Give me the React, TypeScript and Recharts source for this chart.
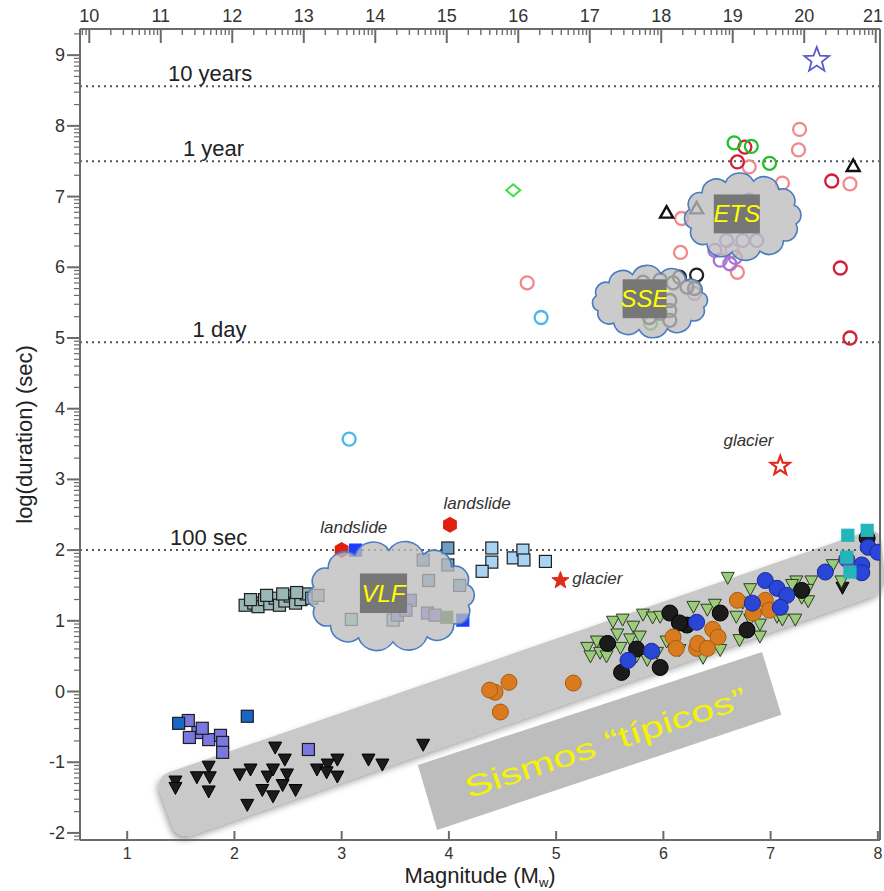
import React from "react";
import { ScatterChart, Scatter, XAxis, YAxis, ReferenceLine, ReferenceArea } from "recharts";

type Pt = [number, number];

// [magnitude Mw, log10 duration (s)]
const pinkRings: Pt[] = [
  [7.27, 7.95], [7.26, 7.66], [6.8, 7.42], [7.11, 7.19], [7.74, 7.18],
  [6.17, 6.69], [6.16, 6.21], [6.64, 6.24], [6.69, 5.93], [4.73, 5.78],
];
const redRings: Pt[] = [[6.69, 7.49], [6.76, 7.7], [7.57, 7.22], [7.65, 5.99], [7.74, 5.0]];
const greenRings: Pt[] = [[6.66, 7.76], [6.82, 7.71], [6.99, 7.47], [5.88, 5.21]];
const purpleRings: Pt[] = [
  [6.48, 6.24], [6.53, 6.1], [6.59, 6.38], [6.74, 6.38], [6.87, 6.38],
  [6.67, 6.14], [6.8, 6.95], [6.29, 5.63], [6.62, 6.05],
];
const blackRings: Pt[] = [
  [5.81, 5.79], [5.97, 5.82], [6.09, 5.78], [6.22, 5.72], [6.31, 5.89], [6.29, 5.7],
  [6.06, 5.53], [6.06, 5.39], [6.06, 5.25], [5.97, 5.35], [5.87, 5.29], [6.15, 5.86], [5.9, 5.6],
];
const cyanRings: Pt[] = [[4.86, 5.29], [3.07, 3.57]];
const greenDiamonds: Pt[] = [[4.6, 7.09]];
const blackOpenTriangles: Pt[] = [[6.03, 6.78], [6.31, 6.84], [7.77, 7.44]];
const blueOpenStars: Pt[] = [[7.43, 8.93]];
const redOpenStars: Pt[] = [[7.09, 3.19]];
const redStars: Pt[] = [[5.04, 1.57]];
const redHexagons: Pt[] = [[3.0, 2.0], [4.01, 2.36]];

// VLF & low-frequency squares
const grayTealSquares: Pt[] = [
  [2.1, 1.22], [2.18, 1.25], [2.22, 1.2], [2.28, 1.3], [2.33, 1.24], [2.38, 1.32],
  [2.42, 1.22], [2.47, 1.28], [2.52, 1.35], [2.57, 1.25], [2.62, 1.3], [2.67, 1.38],
  [2.72, 1.32], [2.78, 1.36], [2.3, 1.36], [2.45, 1.38], [2.15, 1.3], [2.58, 1.4],
];
const lightBlueSquares: Pt[] = [
  [4.4, 2.03], [4.4, 1.83], [4.31, 1.7], [4.6, 1.89], [4.69, 2.0], [4.7, 1.86], [4.9, 1.84],
];
const steelBlueSquares: Pt[] = [[3.76, 1.86], [3.99, 2.03], [3.99, 1.79], [3.81, 1.57], [4.1, 1.5]];
const tealSquares: Pt[] = [[3.09, 1.02], [3.48, 1.01]];
const periwinkleSquares: Pt[] = [
  [3.64, 1.29], [3.52, 1.08], [3.8, 1.11], [3.87, 1.08], [3.6, 1.15],
  [1.57, -0.41], [1.66, -0.58], [1.58, -0.65], [1.76, -0.68], [1.87, -0.62],
  [1.89, -0.72], [1.89, -0.86], [2.69, -0.82], [1.7, -0.52],
];
const midBlueSquares: Pt[] = [[1.48, -0.45], [2.12, -0.35]];
const brightBlueSquares: Pt[] = [[3.13, 2.0], [4.13, 1.01]];
const darkGreenSquares: Pt[] = [[3.98, 1.05]];
const cyanSquares: Pt[] = [[7.72, 2.21], [7.9, 2.28], [7.71, 1.9], [7.74, 1.69]];

// regular earthquakes
const blackTriangles: Pt[] = [
  [1.45, -1.28], [1.45, -1.37], [1.65, -1.22], [1.76, -1.07], [1.77, -1.22], [1.76, -1.42],
  [2.05, -1.18], [2.15, -1.11], [2.12, -1.61], [2.26, -1.4], [2.31, -1.21], [2.36, -1.11],
  [2.38, -0.8], [2.47, -0.97], [2.36, -1.49], [2.45, -1.33], [2.49, -1.18], [2.57, -1.4],
  [2.77, -1.11], [2.87, -1.04], [2.96, -0.97], [2.96, -1.21], [2.86, -1.15], [3.25, -0.97],
  [3.38, -1.04], [3.76, -0.76], [7.67, 1.46],
];
const greenTriangles: Pt[] = [
  [5.29, 0.61], [5.38, 0.7], [5.53, 0.98], [5.62, 1.01], [5.72, 0.91], [5.81, 1.08],
  [5.9, 1.04], [5.57, 0.8], [5.69, 0.73], [5.78, 0.77], [5.32, 0.49], [5.41, 0.54],
  [5.75, 0.49], [5.85, 0.44], [5.94, 0.54], [5.97, 1.05], [5.6, 0.61], [5.47, 0.49],
  [6.6, 1.6], [7.58, 1.78], [7.66, 1.55], [7.24, 1.55], [7.38, 1.55], [7.35, 1.27],
  [7.23, 1.01], [6.81, 1.44], [6.9, 0.77], [6.71, 0.72], [6.53, 0.58], [6.37, 0.47],
  [6.15, 0.58], [6.03, 0.7], [6.41, 1.15], [6.28, 1.19], [6.68, 1.05], [7.06, 1.05],
  [7.11, 1.01], [7.29, 1.32], [6.81, 1.01], [6.9, 0.94], [6.48, 1.22], [6.74, 1.25],
  [7.2, 1.5], [7.34, 1.43],
];
const orangeDiscs: Pt[] = [
  [4.43, -0.01], [4.56, 0.13], [4.38, 0.02], [4.48, -0.29], [5.16, 0.12],
  [6.09, 0.77], [6.12, 0.61], [6.31, 0.61], [6.69, 1.29], [6.95, 1.29], [6.99, 1.15],
  [6.84, 1.11], [6.46, 0.88], [6.51, 0.77], [6.32, 0.68], [6.41, 0.61],
];
const blackDiscs: Pt[] = [
  [5.48, 0.68], [5.61, 0.27], [5.97, 0.34], [6.06, 1.11], [6.22, 0.94], [7.9, 2.17],
  [7.29, 1.43], [6.53, 1.11], [6.78, 0.87], [6.15, 0.97], [5.75, 0.6],
];
const blueDiscs: Pt[] = [
  [5.67, 0.44], [5.89, 0.57], [6.31, 0.98], [7.91, 2.04], [8.0, 1.97], [7.85, 1.79],
  [7.85, 1.68], [7.51, 1.69], [6.95, 1.57], [7.06, 1.46], [7.15, 1.36], [7.09, 1.19], [6.83, 1.25],
];
const purpleDiscs: Pt[] = [[7.71, 1.87]];

const magTicks = [1, 2, 3, 4, 5, 6, 7, 8];
const momentTicks = [10, 11, 12, 13, 14, 15, 16, 17, 18, 19, 20, 21];
const durationTicks = [-2, -1, 0, 1, 2, 3, 4, 5, 6, 7, 8, 9];

const durationLines = [
  { y: 8.56, text: "10 years", mw: 1.38 },
  { y: 7.5, text: "1 year", mw: 1.52 },
  { y: 4.94, text: "1 day", mw: 1.61 },
  { y: 2.0, text: "100 sec", mw: 1.4 },
];

const notes = [
  { x: 2.8, y: 2.32, text: "landslide" },
  { x: 3.95, y: 2.66, text: "landslide" },
  { x: 5.15, y: 1.6, text: "glacier" },
  { x: 6.56, y: 3.55, text: "glacier" },
];

const clouds = [
  { name: "VLF", x1: 2.63, x2: 4.29, y1: 0.56, y2: 2.14, lx1: 3.17, lx2: 3.61, ly1: 1.11, ly2: 1.67, bumps: 14 },
  { name: "SSE", x1: 5.27, x2: 6.48, y1: 4.97, y2: 6.06, lx1: 5.62, lx2: 6.03, ly1: 5.28, ly2: 5.83, bumps: 12 },
  { name: "ETS", x1: 6.14, x2: 7.34, y1: 6.06, y2: 7.37, lx1: 6.47, lx2: 6.9, ly1: 6.48, ly2: 7.03, bumps: 12 },
];

const bandCorners: Pt[] = [[1.26, -1.21], [8.02, 2.33], [8.08, 1.42], [1.47, -2.1]];
const boxCorners: Pt[] = [[3.71, -1.04], [6.92, 0.56], [7.1, -0.33], [3.89, -1.96]];

const WIDTH = 884;
const HEIGHT = 891;
const X_MIN = 0.56;
const X_MAX = 8.02;
const Y_MIN = -2.1;
const Y_MAX = 9.37;
// top axis: log10 seismic moment, M0 = 1.5 Mw + 9.03
const momentToMw = (v: number) => (v - 9.03) / 1.5;

const FONT = "'Liberation Sans', Arial, sans-serif";
const AXIS = "#6b6b6b";

const logMinors = (lo: number, hi: number) => {
  const out: number[] = [];
  for (let n = Math.floor(lo) - 1; n <= Math.ceil(hi); n++)
    for (let k = 2; k <= 9; k++) {
      const v = n + Math.log10(k);
      if (v > lo && v < hi) out.push(v);
    }
  return out;
};

const toXY = (pts: Pt[]) => pts.map(([x, y]) => ({ x, y }));

// marker shapes
const ring = (color: string) => (p: any) => (
  <circle cx={p.cx} cy={p.cy} r={6.5} fill="none" stroke={color} strokeWidth={2.3} />
);
const disc = (fill: string, stroke: string) => (p: any) => (
  <circle cx={p.cx} cy={p.cy} r={8} fill={fill} stroke={stroke} strokeWidth={1} />
);
const square = (fill: string, stroke = "#1e1e1e") => (p: any) => (
  <rect x={p.cx - 6} y={p.cy - 6} width={12} height={12} fill={fill} stroke={stroke} strokeWidth={1.2} />
);
const triDown = (fill: string, stroke: string) => (p: any) => (
  <polygon
    points={`${p.cx - 6.5},${p.cy - 6} ${p.cx + 6.5},${p.cy - 6} ${p.cx},${p.cy + 6}`}
    fill={fill}
    stroke={stroke}
    strokeWidth={1}
    strokeLinejoin="round"
  />
);
const triUpOpen = (color: string) => (p: any) => (
  <polygon
    points={`${p.cx - 6.5},${p.cy + 5.5} ${p.cx + 6.5},${p.cy + 5.5} ${p.cx},${p.cy - 6}`}
    fill="none"
    stroke={color}
    strokeWidth={2.4}
  />
);
const starPts = (cx: number, cy: number, R: number) => {
  const pts: string[] = [];
  for (let i = 0; i < 10; i++) {
    const a = -Math.PI / 2 + (i * Math.PI) / 5;
    const r = i % 2 === 0 ? R : R * 0.42;
    pts.push(`${cx + r * Math.cos(a)},${cy + r * Math.sin(a)}`);
  }
  return pts.join(" ");
};
const star = (fill: string, stroke: string, R: number, sw: number) => (p: any) => (
  <polygon points={starPts(p.cx, p.cy, R)} fill={fill} stroke={stroke} strokeWidth={sw} />
);
const hexagon = (fill: string) => (p: any) => {
  const pts: string[] = [];
  for (let i = 0; i < 6; i++) {
    const a = -Math.PI / 2 + (i * Math.PI) / 3;
    pts.push(`${p.cx + 8 * Math.cos(a)},${p.cy + 8 * Math.sin(a)}`);
  }
  return <polygon points={pts.join(" ")} fill={fill} />;
};
const diamondOpen = (color: string) => (p: any) => (
  <polygon
    points={`${p.cx},${p.cy - 6} ${p.cx + 7},${p.cy} ${p.cx},${p.cy + 6} ${p.cx - 7},${p.cy}`}
    fill="none"
    stroke={color}
    strokeWidth={2}
  />
);

const BottomTick = (props: any) => {
  const { x, y, payload } = props;
  return (
    <g>
      <line x1={x} x2={x} y1={y} y2={y - 9} stroke={AXIS} strokeWidth={2} />
      <text x={x} y={y + 19} textAnchor="middle" fontSize={16} fill="#333" fontFamily={FONT}>
        {payload.value}
      </text>
    </g>
  );
};
const LeftTick = (props: any) => {
  const { x, y, payload } = props;
  return (
    <g>
      <line x1={x - 13} x2={x} y1={y} y2={y} stroke={AXIS} strokeWidth={2} />
      <text x={x - 15} y={y} textAnchor="end" dominantBaseline="central" fontSize={18} fill="#333" fontFamily={FONT}>
        {payload.value}
      </text>
    </g>
  );
};

// map data coords inside a full-domain ReferenceArea
const mapper = (p: any) => ({
  sx: (v: number) => p.x + ((v - X_MIN) / (X_MAX - X_MIN)) * p.width,
  sy: (v: number) => p.y + ((Y_MAX - v) / (Y_MAX - Y_MIN)) * p.height,
});

// top moment axis and the log minor ticks of the duration axis
const FrameShape = (p: any) => {
  const { sx, sy } = mapper(p);
  const top = p.y;
  const left = p.x;
  const mMin = 1.5 * X_MIN + 9.03;
  const mMax = 1.5 * X_MAX + 9.03;
  return (
    <g>
      <line x1={left} x2={left + p.width} y1={top} y2={top} stroke={AXIS} strokeWidth={2} />
      {logMinors(mMin, mMax).map((v, i) => {
        const x = sx(momentToMw(v));
        return <line key={`tm${i}`} x1={x} x2={x} y1={top} y2={top + 6} stroke={AXIS} strokeWidth={1.4} />;
      })}
      {momentTicks.map((v) => {
        const x = sx(momentToMw(v));
        const tx = Math.min(x, WIDTH - 11);
        return (
          <g key={`tM${v}`}>
            <line x1={x} x2={x} y1={top} y2={top + 14} stroke={AXIS} strokeWidth={2} />
            <text x={tx} y={top - 7} textAnchor="middle" fontSize={18} fill="#333" fontFamily={FONT}>
              {v}
            </text>
          </g>
        );
      })}
      {logMinors(Y_MIN, Y_MAX).map((v, i) => {
        const y = sy(v);
        return <line key={`ym${i}`} x1={left - 6} x2={left} y1={y} y2={y} stroke={AXIS} strokeWidth={1.2} />;
      })}
    </g>
  );
};

const roundedPath = (pts: number[][], r: number) => {
  const n = pts.length;
  let d = "";
  for (let i = 0; i < n; i++) {
    const prev = pts[(i + n - 1) % n];
    const cur = pts[i];
    const next = pts[(i + 1) % n];
    const l1 = Math.hypot(prev[0] - cur[0], prev[1] - cur[1]);
    const l2 = Math.hypot(next[0] - cur[0], next[1] - cur[1]);
    const a = [cur[0] + ((prev[0] - cur[0]) * r) / l1, cur[1] + ((prev[1] - cur[1]) * r) / l1];
    const b = [cur[0] + ((next[0] - cur[0]) * r) / l2, cur[1] + ((next[1] - cur[1]) * r) / l2];
    d += `${i === 0 ? "M" : "L"}${a[0]},${a[1]} Q${cur[0]},${cur[1]} ${b[0]},${b[1]} `;
  }
  return d + "Z";
};

const BandShape = (p: any) => {
  const { sx, sy } = mapper(p);
  const band = bandCorners.map(([x, y]) => [sx(x), sy(y)]);
  const box = boxCorners.map(([x, y]) => [sx(x), sy(y)]);
  const cx = box.reduce((s, q) => s + q[0], 0) / 4;
  const cy = box.reduce((s, q) => s + q[1], 0) / 4;
  const ang = (Math.atan2(box[1][1] - box[0][1], box[1][0] - box[0][0]) * 180) / Math.PI;
  return (
    <g>
      <defs>
        <filter id="bandShadow" x="-5%" y="-20%" width="110%" height="140%">
          <feDropShadow dx="-2" dy="4" stdDeviation="3" floodColor="#000" floodOpacity="0.35" />
        </filter>
      </defs>
      <path d={roundedPath(band, 16)} fill="#c9c9c9" filter="url(#bandShadow)" />
      <polygon points={box.map((q) => q.join(",")).join(" ")} fill="#bdbdbd" />
      <text
        x={cx + 6}
        y={cy + 2}
        transform={`rotate(${ang} ${cx + 6} ${cy + 2})`}
        textAnchor="middle"
        dominantBaseline="central"
        fontSize={30}
        fill="#f4f400"
        fontFamily={FONT}
        textLength={295}
        lengthAdjust="spacingAndGlyphs"
      >
        Sismos “típicos”
      </text>
    </g>
  );
};

const cloudPath = (x1: number, y1: number, x2: number, y2: number, n: number) => {
  const cx = (x1 + x2) / 2;
  const cy = (y1 + y2) / 2;
  const bump = 10;
  const rx = (x2 - x1) / 2 - bump;
  const ry = (y2 - y1) / 2 - bump;
  const pts: number[][] = [];
  for (let i = 0; i < n; i++) {
    const a = (i / n) * 2 * Math.PI + 0.2;
    pts.push([cx + rx * Math.cos(a), cy + ry * Math.sin(a)]);
  }
  let d = `M${pts[0][0]},${pts[0][1]}`;
  for (let i = 0; i < n; i++) {
    const q1 = pts[i];
    const q2 = pts[(i + 1) % n];
    const r = Math.hypot(q2[0] - q1[0], q2[1] - q1[1]) * 0.56;
    d += ` A${r},${r} 0 0 1 ${q2[0]},${q2[1]}`;
  }
  return d + " Z";
};

const CloudShape = (p: any) => {
  const { sx, sy } = mapper(p);
  return (
    <g>
      {clouds.map((c) => {
        const lx = sx(c.lx1);
        const ly = sy(c.ly2);
        const lw = sx(c.lx2) - lx;
        const lh = sy(c.ly1) - ly;
        return (
          <g key={c.name}>
            <path
              d={cloudPath(sx(c.x1), sy(c.y2), sx(c.x2), sy(c.y1), c.bumps)}
              fill="#bdbdbd"
              fillOpacity={0.78}
              stroke="#4a7cc3"
              strokeWidth={1.6}
            />
            <rect x={lx} y={ly} width={lw} height={lh} fill="#777777" />
            <text
              x={lx + lw / 2}
              y={ly + lh / 2}
              textAnchor="middle"
              dominantBaseline="central"
              fontSize={24}
              fontStyle="italic"
              fill="#ffff00"
              fontFamily={FONT}
            >
              {c.name}
            </text>
          </g>
        );
      })}
    </g>
  );
};

const noteShape = (p: any) => (
  <text x={p.cx} y={p.cy} dominantBaseline="central" fontSize={17} fontStyle="italic" fill="#333" fontFamily={FONT}>
    {p.payload.text}
  </text>
);

const series: { pts: Pt[]; shape: any }[] = [
  { pts: blackTriangles, shape: triDown("#1b1b1b", "#000") },
  { pts: greenTriangles, shape: triDown("#9ccb7c", "#2c3f22") },
  { pts: blackDiscs, shape: disc("#1b1b1b", "#000") },
  { pts: orangeDiscs, shape: disc("#d97a1f", "#a65c12") },
  { pts: blueDiscs, shape: disc("#2a46d8", "#1a2a8a") },
  { pts: purpleDiscs, shape: disc("#7a3cc8", "#4a2080") },
  { pts: cyanSquares, shape: square("#22b6b8", "#22b6b8") },
  { pts: grayTealSquares, shape: square("#9ab6b6") },
  { pts: lightBlueSquares, shape: square("#a9d3f3") },
  { pts: steelBlueSquares, shape: square("#6e9ec6") },
  { pts: tealSquares, shape: square("#8ccccc") },
  { pts: periwinkleSquares, shape: square("#7a78e0") },
  { pts: midBlueSquares, shape: square("#1866c8") },
  { pts: brightBlueSquares, shape: square("#1a3cff", "#1a3cff") },
  { pts: darkGreenSquares, shape: square("#3c6a1e", "#3c6a1e") },
  { pts: pinkRings, shape: ring("#f08a8a") },
  { pts: redRings, shape: ring("#d41f3a") },
  { pts: greenRings, shape: ring("#22c02a") },
  { pts: purpleRings, shape: ring("#a674d6") },
  { pts: blackRings, shape: ring("#222222") },
  { pts: cyanRings, shape: ring("#4ab8ea") },
  { pts: greenDiamonds, shape: diamondOpen("#3ee03e") },
  { pts: blackOpenTriangles, shape: triUpOpen("#111111") },
  { pts: blueOpenStars, shape: star("none", "#5a5ac8", 13, 1.8) },
  { pts: redOpenStars, shape: star("none", "#e02a1a", 10, 2.2) },
  { pts: redStars, shape: star("#e02a1a", "#e02a1a", 9, 1) },
  { pts: redHexagons, shape: hexagon("#e0200f") },
];

export default function App() {
  return (
    <div style={{ width: WIDTH, height: HEIGHT, background: "#fff", fontFamily: FONT }}>
      <style>{"body{margin:0}"}</style>
      <ScatterChart width={WIDTH} height={HEIGHT} margin={{ top: 29, right: 0, bottom: 0, left: 0 }}>
        <XAxis
          xAxisId="mw"
          dataKey="x"
          type="number"
          orientation="bottom"
          domain={[X_MIN, X_MAX]}
          ticks={magTicks}
          allowDataOverflow
          interval={0}
          height={51}
          tickSize={0}
          tickMargin={0}
          tickLine={false}
          axisLine={{ stroke: AXIS, strokeWidth: 2 }}
          tick={<BottomTick />}
          label={(lp: any) => (
            <text
              x={lp.viewBox.x + lp.viewBox.width / 2}
              y={lp.viewBox.y + 43}
              textAnchor="middle"
              fontSize={22}
              fill="#222"
              fontFamily={FONT}
            >
              Magnitude (M
              <tspan fontSize={13} dy={4}>w</tspan>
              <tspan dy={-4}>)</tspan>
            </text>
          )}
        />
        <YAxis
          yAxisId="dur"
          dataKey="y"
          type="number"
          domain={[Y_MIN, Y_MAX]}
          ticks={durationTicks}
          allowDataOverflow
          interval={0}
          width={80}
          tickSize={0}
          tickMargin={0}
          tickLine={false}
          axisLine={{ stroke: AXIS, strokeWidth: 2 }}
          tick={<LeftTick />}
          label={(lp: any) => {
            const cx = 24;
            const cy = lp.viewBox.y + lp.viewBox.height / 2;
            return (
              <text
                x={cx}
                y={cy}
                transform={`rotate(-90 ${cx} ${cy})`}
                textAnchor="middle"
                dominantBaseline="central"
                fontSize={22}
                fill="#222"
                fontFamily={FONT}
              >
                log(duration) (sec)
              </text>
            );
          }}
        />
        <YAxis
          yAxisId="frame"
          orientation="right"
          type="number"
          domain={[Y_MIN, Y_MAX]}
          width={4}
          tick={false}
          tickLine={false}
          axisLine={{ stroke: AXIS, strokeWidth: 2 }}
        />

        <ReferenceArea
          xAxisId="mw"
          yAxisId="dur"
          x1={X_MIN}
          x2={X_MAX}
          y1={Y_MIN}
          y2={Y_MAX}
          ifOverflow="visible"
          shape={BandShape}
        />
        <ReferenceArea
          xAxisId="mw"
          yAxisId="dur"
          x1={X_MIN}
          x2={X_MAX}
          y1={Y_MIN}
          y2={Y_MAX}
          ifOverflow="visible"
          shape={FrameShape}
        />

        {durationLines.map((l) => (
          <ReferenceLine
            key={l.text}
            xAxisId="mw"
            yAxisId="dur"
            y={l.y}
            stroke="#555"
            strokeWidth={2}
            strokeDasharray="2 4"
            label={(lp: any) => (
              <text
                x={lp.viewBox.x + ((l.mw - X_MIN) / (X_MAX - X_MIN)) * lp.viewBox.width}
                y={lp.viewBox.y - 5}
                fontSize={22}
                fill="#222"
                fontFamily={FONT}
              >
                {l.text}
              </text>
            )}
          />
        ))}

        {series.map((s, i) => (
          <Scatter
            key={i}
            xAxisId="mw"
            yAxisId="dur"
            data={toXY(s.pts)}
            shape={s.shape}
            isAnimationActive={false}
          />
        ))}

        <ReferenceArea
          xAxisId="mw"
          yAxisId="dur"
          x1={X_MIN}
          x2={X_MAX}
          y1={Y_MIN}
          y2={Y_MAX}
          ifOverflow="visible"
          shape={CloudShape}
          {...({ zIndex: 2000 } as any)}
        />

        <Scatter xAxisId="mw" yAxisId="dur" data={notes} shape={noteShape} isAnimationActive={false} />
      </ScatterChart>
    </div>
  );
}
